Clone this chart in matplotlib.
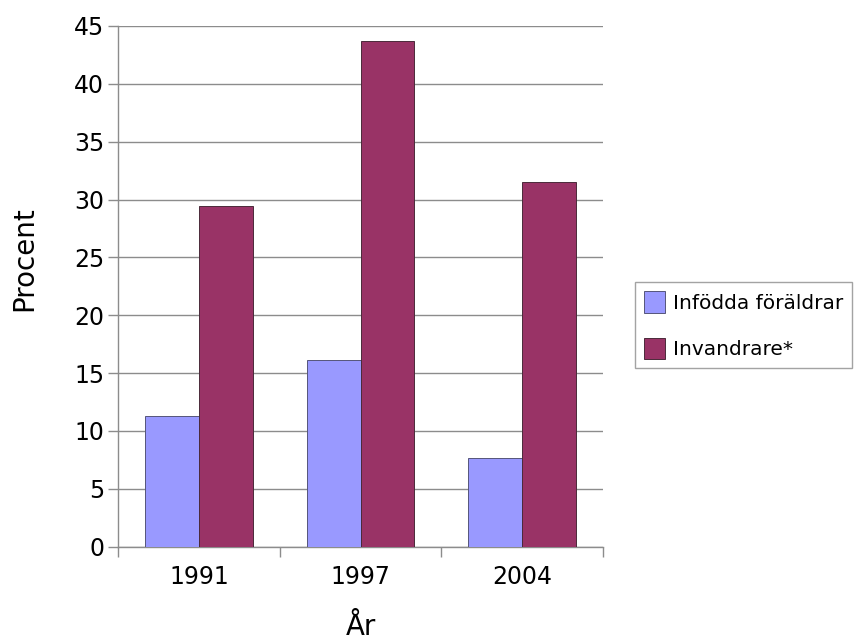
import matplotlib
matplotlib.use("Agg")
import matplotlib.pyplot as plt
import numpy as np

years = ["1991", "1997", "2004"]
infodda = [11.3, 16.1, 7.7]
invandrare = [29.4, 43.7, 31.5]
series_names = ["Infödda föräldrar", "Invandrare*"]

plt.rcParams['font.family'] = ['DejaVu Sans']

fig = plt.figure(figsize=(8.59, 6.4), dpi=100)
ax = fig.add_axes([0.1374, 0.1458, 0.5646, 0.8136])

x = np.arange(len(years))
w = 0.333
grid_c = "#8c8c8c"

ax.bar(x - w / 2, infodda, w, color="#9999ff", edgecolor="#55557a", linewidth=0.7,
       label=series_names[0], zorder=3)
ax.bar(x + w / 2, invandrare, w, color="#993366", edgecolor="#4a2a3a", linewidth=0.7,
       label=series_names[1], zorder=3)

ax.set_xlim(-0.5, len(years) - 0.5)
ax.set_ylim(0, 45)
ax.set_yticks(np.arange(0, 46, 5))
ax.yaxis.grid(True, color=grid_c, linewidth=1.0)
ax.set_axisbelow(True)

ax.set_xticks(x)
ax.set_xticklabels(years)
ax.set_xticks(np.arange(-0.5, len(years), 1.0), minor=True)
ax.tick_params(axis="x", which="major", length=0, pad=13, labelsize=17)
ax.tick_params(axis="x", which="minor", length=7, width=1.0, color=grid_c, direction="out")
ax.tick_params(axis="y", length=7, width=1.0, color=grid_c, pad=3, labelsize=17)

for side in ["top", "right"]:
    ax.spines[side].set_visible(False)
for side in ["left", "bottom"]:
    ax.spines[side].set_color(grid_c)
    ax.spines[side].set_linewidth(1.0)

ax.set_ylabel("Procent", fontsize=20)
ax.yaxis.set_label_coords(-0.165, 0.553)
ax.set_xlabel("År", fontsize=20)
ax.xaxis.set_label_coords(0.5, -0.128)

leg = fig.legend(loc="upper left", bbox_to_anchor=(0.739, 0.559), fontsize=14.5,
                 handlelength=1.05, handleheight=1.25, handletextpad=0.4,
                 labelspacing=1.25, borderpad=0.45, borderaxespad=0,
                 fancybox=False, frameon=True)
leg.get_frame().set_edgecolor(grid_c)
leg.get_frame().set_linewidth(1.0)

fig.savefig("out.png", dpi=100)
